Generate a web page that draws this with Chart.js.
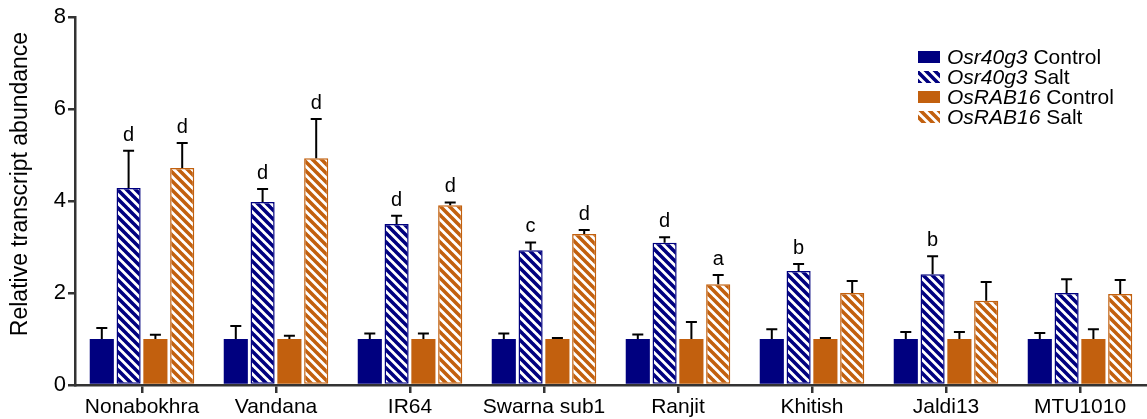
<!DOCTYPE html>
<html>
<head>
<meta charset="utf-8">
<script src="https://cdn.jsdelivr.net/npm/chart.js@4/dist/chart.umd.min.js"></script>
<style>
  html, body { margin: 0; padding: 0; background: #fff; overflow: hidden; }
  canvas { display: block; }
</style>
</head>
<body>
<canvas id="c" width="1147" height="419"></canvas>
<script>
// Cultivars on the x axis
const cultivars = ['Nonabokhra', 'Vandana', 'IR64', 'Swarna sub1', 'Ranjit', 'Khitish', 'Jaldi13', 'MTU1010'];

// Osr40g3 expression (mean and upper error)
const osr40Control    = [1, 1, 1, 1, 1, 1, 1, 1];
const osr40ControlErr = [0.24, 0.28, 0.12, 0.12, 0.10, 0.21, 0.15, 0.13];
const osr40Salt       = [4.28, 3.98, 3.50, 2.93, 3.09, 2.48, 2.41, 2.00];
const osr40SaltErr    = [0.81, 0.28, 0.18, 0.17, 0.12, 0.15, 0.39, 0.30];

// OsRAB16 expression (mean and upper error)
const rab16Control    = [1, 1, 1, 1, 1, 1, 1, 1];
const rab16ControlErr = [0.09, 0.07, 0.12, 0.02, 0.37, 0.02, 0.15, 0.21];
const rab16Salt       = [4.72, 4.93, 3.91, 3.28, 2.19, 2.00, 1.83, 1.98];
const rab16SaltErr    = [0.54, 0.85, 0.06, 0.09, 0.20, 0.26, 0.41, 0.30];

// Significance letters above the salt bars
const osr40SaltLetters = ['d', 'd', 'd', 'c', 'd', 'b', 'b', ''];
const rab16SaltLetters = ['d', 'd', 'd', 'd', 'a', '', '', ''];

// Y axis ticks
const yTicks = [0, 2, 4, 6, 8];

const NAVY = '#00007f';
const ORANGE = '#c2600e';
const FONT = '"Liberation Sans", Arial, sans-serif';

// Diagonal "\" stripe pattern on white
function hatch(color) {
  const p = 9;
  const c = document.createElement('canvas');
  c.width = p; c.height = p;
  const g = c.getContext('2d');
  g.fillStyle = '#fff';
  g.fillRect(0, 0, p, p);
  g.strokeStyle = color;
  g.lineWidth = 3.6;
  g.beginPath();
  for (let k = -1; k <= 1; k++) {
    g.moveTo(k * p - 1, -1);
    g.lineTo(k * p + p + 1, p + 1);
  }
  g.stroke();
  return g.createPattern(c, 'repeat');
}

const ctx = document.getElementById('c').getContext('2d');
const navyHatch = hatch(NAVY);
const orangeHatch = hatch(ORANGE);

const series = [
  { label: 'Osr40g3', cond: 'Control', data: osr40Control, err: osr40ControlErr, letters: null,
    backgroundColor: NAVY, borderColor: NAVY, borderWidth: 0, swatch: NAVY },
  { label: 'Osr40g3', cond: 'Salt', data: osr40Salt, err: osr40SaltErr, letters: osr40SaltLetters,
    backgroundColor: navyHatch, borderColor: NAVY, borderWidth: 1.5, swatch: navyHatch },
  { label: 'OsRAB16', cond: 'Control', data: rab16Control, err: rab16ControlErr, letters: null,
    backgroundColor: ORANGE, borderColor: ORANGE, borderWidth: 0, swatch: ORANGE },
  { label: 'OsRAB16', cond: 'Salt', data: rab16Salt, err: rab16SaltErr, letters: rab16SaltLetters,
    backgroundColor: orangeHatch, borderColor: ORANGE, borderWidth: 1.5, swatch: orangeHatch }
];

// Upward error bars with caps, plus significance letters
const errorBars = {
  id: 'errorBars',
  afterDatasetsDraw(chart) {
    const { ctx } = chart;
    const y = chart.scales.y;
    ctx.save();
    ctx.strokeStyle = '#000';
    ctx.lineWidth = 2;
    ctx.fillStyle = '#000';
    ctx.font = '20px ' + FONT;
    ctx.textAlign = 'center';
    ctx.textBaseline = 'alphabetic';
    chart.data.datasets.forEach((ds, i) => {
      const meta = chart.getDatasetMeta(i);
      meta.data.forEach((bar, j) => {
        const top = y.getPixelForValue(ds.data[j] + ds.err[j]);
        ctx.beginPath();
        ctx.moveTo(bar.x, bar.y);
        ctx.lineTo(bar.x, top);
        ctx.moveTo(bar.x - 5.5, top);
        ctx.lineTo(bar.x + 5.5, top);
        ctx.stroke();
        if (ds.letters && ds.letters[j]) {
          ctx.fillText(ds.letters[j], bar.x, top - 10);
        }
      });
    });
    ctx.restore();
  }
};

// Legend with italic gene names and y axis title
const decorations = {
  id: 'decorations',
  afterDraw(chart) {
    const { ctx } = chart;
    ctx.save();
    // y axis title
    ctx.translate(21, 184);
    ctx.rotate(-Math.PI / 2);
    ctx.font = '23px ' + FONT;
    ctx.fillStyle = '#000';
    ctx.textAlign = 'center';
    ctx.textBaseline = 'middle';
    ctx.fillText('Relative transcript abundance', 0, 0);
    ctx.restore();

    ctx.save();
    const x0 = 918, rowH = 20, yStart = 57;
    series.forEach((s, i) => {
      const cy = yStart + i * rowH;
      ctx.fillStyle = s.swatch;
      ctx.fillRect(x0, cy - 6, 22, 12);
      ctx.fillStyle = '#000';
      ctx.textBaseline = 'middle';
      ctx.textAlign = 'left';
      ctx.font = 'italic 21px ' + FONT;
      ctx.fillText(s.label, 947, cy + 1);
      const w = ctx.measureText(s.label).width;
      ctx.font = '21px ' + FONT;
      ctx.fillText(' ' + s.cond, 947 + w, cy + 1);
    });
    ctx.restore();
  }
};

new Chart(ctx, {
  type: 'bar',
  data: {
    labels: cultivars,
    datasets: series.map(s => ({
      label: s.label + ' ' + s.cond,
      data: s.data,
      err: s.err,
      letters: s.letters,
      backgroundColor: s.backgroundColor,
      borderColor: s.borderColor,
      borderWidth: s.borderWidth,
      borderSkipped: false,
      categoryPercentage: 0.8,
      barPercentage: 0.9
    }))
  },
  options: {
    responsive: false,
    animation: false,
    devicePixelRatio: 1,
    layout: { padding: { top: 17, right: 0, left: 0, bottom: 0 } },
    plugins: { legend: { display: false }, tooltip: { enabled: false } },
    scales: {
      x: {
        offset: true,
        border: { color: '#333', width: 2.5 },
        grid: { offset: false, drawOnChartArea: false, drawTicks: true, tickLength: 8, color: '#333', lineWidth: 2.5 },
        ticks: { color: '#000', font: { family: FONT, size: 21 }, padding: 2, maxRotation: 0, autoSkip: false },
        afterFit(scale) { scale.height = 34; }
      },
      y: {
        min: 0, max: 8,
        afterBuildTicks(scale) { scale.ticks = yTicks.map(v => ({ value: v })); },
        border: { color: '#333', width: 2.5 },
        grid: { drawOnChartArea: false, drawTicks: true, tickLength: 7, color: '#333', lineWidth: 2.5 },
        ticks: { color: '#000', font: { family: FONT, size: 22 }, padding: 2 },
        afterFit(scale) { scale.width = 75; }
      }
    }
  },
  plugins: [errorBars, decorations]
});
</script>
</body>
</html>
